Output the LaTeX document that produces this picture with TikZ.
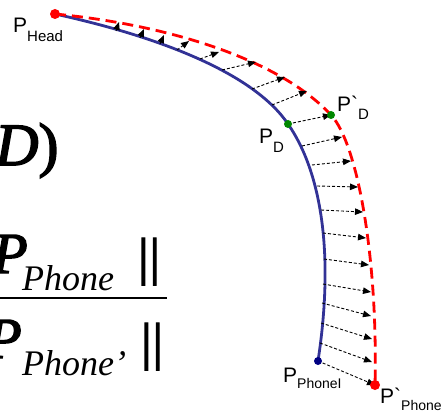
\documentclass[tikz,border=0pt]{standalone}
\usepackage{fontspec}
\setmainfont{Liberation Serif}
\newfontfamily\arialfont{Liberation Sans}
\newfontfamily\formfont[UprightFeatures={FakeBold=2.5}, ItalicFeatures={FakeBold=2.5}]{Liberation Serif}
\usetikzlibrary{arrows.meta}
\definecolor{curveblue}{RGB}{50,50,150}
\definecolor{dotblue}{RGB}{0,0,130}
\definecolor{dotgreen}{RGB}{0,135,0}
\definecolor{curvered}{RGB}{255,0,0}
\begin{document}
\begin{tikzpicture}[x=1pt,y=-1pt,
  lbl/.style={inner sep=0pt, anchor=base west, font=\arialfont},
  formula/.style={inner sep=0pt, anchor=base west, font=\formfont},
  subformula/.style={inner sep=0pt, anchor=base west, font=\normalfont},
  disp/.style={line width=0.9pt, dash pattern=on 3pt off 2pt, -{Triangle[length=8pt,width=6.5pt]}},
  bluecurve/.style={line width=2.8pt, color=curveblue},
  redcurve/.style={line width=2.8pt, color=curvered, dash pattern=on 11pt off 6pt}]
\useasboundingbox (0,0) rectangle (443,414);

% key points
\coordinate (head) at (55,14);
\coordinate (pd) at (288,124);
\coordinate (pdp) at (331,115);
\coordinate (phone) at (318,361);
\coordinate (phonep) at (375,385);

% curves
\draw[bluecurve] (head) .. controls (165,38) and (255,75) .. (pd)
  .. controls (320,170) and (335,250) .. (phone);
\draw[redcurve] (head) .. controls (170,25) and (280,60) .. (pdp)
  .. controls (358,144) and (378,260) .. (phonep);

% displacement arrows
\foreach \i/\ox/\oy/\tx/\ty in {
  1/116/31/119/22, 2/140/38/144/29, 3/160/44/164/35, 4/177/50/189/41,
  5/200/59/219/52, 6/222/70/256/62, 7/252/89/285/77, 8/272/105/307/91,
  10/302/146/342/137, 11/312/165/351/161, 12/317/186/358/187,
  13/321/210/363/212, 14/323/233/366/238, 15/324/259/369/265,
  16/323/284/371/292, 17/322/303/371/316, 18/321/323/372/339,
  19/320/343/372/362}{
  \coordinate (o\i) at (\ox,\oy);
  \coordinate (t\i) at (\tx,\ty);
  \draw[disp] (o\i) -- (t\i);
}
\draw[disp] (pd) -- (pdp);
\draw[disp] (phone) -- (phonep);

% dots
\fill[curvered] (head) circle (5pt);
\fill[curvered] (phonep) circle (5pt);
\fill[dotgreen] (pd) circle (4pt);
\fill[dotgreen] (pdp) circle (4pt);
\fill[dotblue] (phone) circle (4pt);

% point labels
\node[lbl] (lhead) at (13,33) {\fontsize{21}{21}\selectfont P\raisebox{-9pt}{\fontsize{15}{15}\selectfont Head}};
\node[lbl] (lpd) at (259,143) {\fontsize{21}{21}\selectfont P\raisebox{-9pt}{\fontsize{15}{15}\selectfont D}};
\node[lbl] (lpdp) at (337,112) {\fontsize{21}{21}\selectfont P\char96\raisebox{-8pt}{\fontsize{15}{15}\selectfont D}};
\node[lbl] (lphone) at (283,382) {\fontsize{21}{21}\selectfont P\raisebox{-6pt}{\fontsize{14}{14}\selectfont PhoneI}};
\node[lbl] (lphonep) at (380,403) {\fontsize{21}{21}\selectfont P\char96\raisebox{-7pt}{\fontsize{14}{14}\selectfont Phone}};

% formula fragments (cropped at left edge)
\node[formula] (fd) at (-5,165) {\fontsize{60}{60}\selectfont\textit{D}\/)};
\node[formula] (fnp) at (-8,273) {\fontsize{58}{58}\selectfont\textit{P}};
\node[subformula] (fns) at (22,290) {\fontsize{36}{36}\selectfont\textit{Phone}};
\node[formula] (fnb) at (138,274) {\fontsize{52}{52}\selectfont\textbar\kern1pt\textbar};
\coordinate (barl) at (-5,298);
\coordinate (barr) at (167,298);
\draw[line width=2.4pt] (barl) -- (barr);
\node[formula] (fdp) at (-14,358) {\fontsize{58}{58}\selectfont\textit{P}};
\node[subformula] (fds) at (22,375) {\fontsize{36}{36}\selectfont\textit{Phone'}};
\node[formula] (fdb) at (141,359) {\fontsize{52}{52}\selectfont\textbar\kern1pt\textbar};
\end{tikzpicture}
\end{document}
